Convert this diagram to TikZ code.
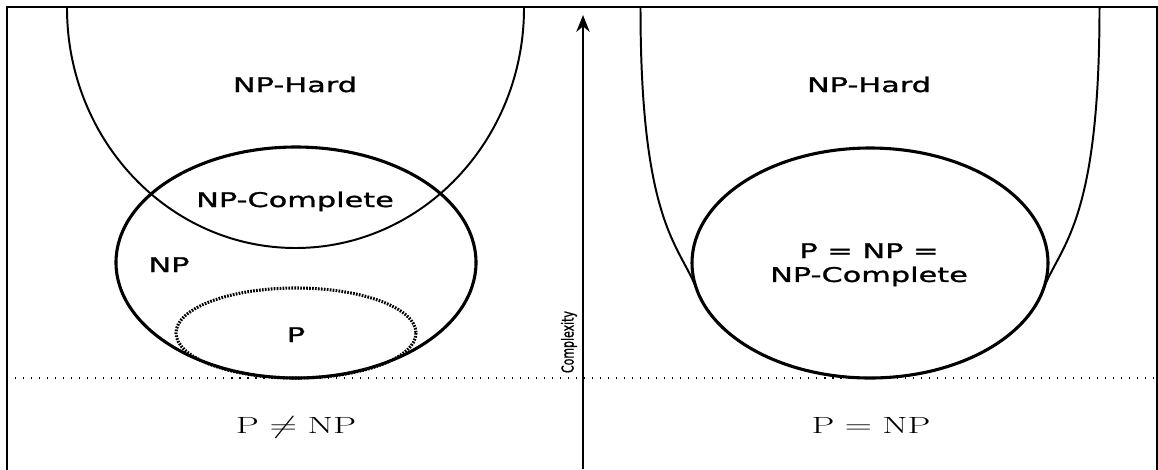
\documentclass[tikz,border=0pt]{standalone}
\usepackage{fontspec}
\usepackage{graphicx}
\usetikzlibrary{arrows.meta}
\newfontfamily\setfont[FakeStretch=1.5, FakeBold=1.2]{DejaVu Sans}
\newfontfamily\axisfont[FakeBold=1.2]{DejaVu Sans}
\tikzstyle{setline} = [line width=2.2pt]
\tikzstyle{hardline} = [line width=1.4pt]
\tikzstyle{setname} = [font=\setfont\fontsize{14.4}{17}\selectfont, align=center, inner sep=0pt, anchor=base]
\tikzstyle{verdict} = [font=\fontsize{16.7}{20}\selectfont, inner sep=0pt, anchor=base]
\tikzstyle{arrow} = [line width=1.5pt, -{Stealth[length=12pt,width=9.5pt]}]

\begin{document}
\begin{tikzpicture}[x=0.25mm, y=-0.25mm]
  \useasboundingbox (0,0) rectangle (1158,469);
  % frame and ground line
  \draw[line width=2pt] (7,472) -- (7,7) -- (1157,7) -- (1157,472);
  \draw[line width=1pt, dash pattern=on 0.8pt off 4.9pt] (7,378) -- (1157,378);
  % complexity axis
  \coordinate (axbot) at (583,469);
  \coordinate (axtop) at (583,15);
  \draw[arrow] (axbot) -- (axtop);
  \node[rotate=90, font=\axisfont\fontsize{7.8}{9}\selectfont, inner sep=0pt] (cplx) at (569,342) {\scalebox{1}[1.5]{Complexity}};

  % left: P != NP
  \draw[hardline] (67,8) arc[start angle=180, end angle=0, x radius=228.5, y radius=240];
  \draw[setline] (296,262.5) ellipse[x radius=180, y radius=115.5];
  \draw[line width=2.2pt, dash pattern=on 1.2pt off 0.9pt] (296,333) ellipse[x radius=120, y radius=45];
  \node[setname] (hardL) at (295,92) {NP-Hard};
  \node[setname] (compL) at (295,207) {NP-Complete};
  \node[setname] (npL) at (169,272) {NP};
  \node[setname] (pL) at (296,342) {P};
  \node[verdict] (neq) at (296,433) {\scalebox{1.57}[1]{$\mathrm{P}\neq\mathrm{NP}$}};

  % right: P = NP
  \draw[hardline] (640.5,8) .. controls (640.5,225) and (680,245) .. (697,290)
    arc[start angle=166.4, end angle=13.6, x radius=178, y radius=115]
    .. controls (1060,245) and (1099.5,225) .. (1099.5,8);
  \draw[setline] (870,263) ellipse[x radius=178, y radius=115];
  \node[setname] (hardR) at (869,92) {NP-Hard};
  \node[setname, anchor=north] (allR) at (869,243) {P = NP =\\NP-Complete};
  \node[verdict] (eq) at (871,433) {\scalebox{1.55}[1]{$\mathrm{P}=\mathrm{NP}$}};
\end{tikzpicture}
\end{document}
